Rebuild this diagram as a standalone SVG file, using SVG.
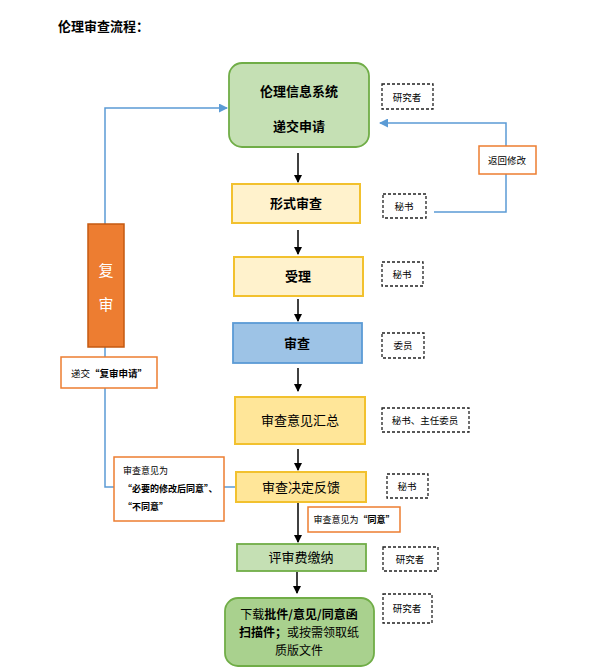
<svg xmlns="http://www.w3.org/2000/svg" width="593" height="670" viewBox="0 0 593 670">
<style>
text{font-family:"Noto Sans CJK SC","Liberation Sans",sans-serif;fill:#000;}
.t{font-size:13px;text-anchor:middle;}
.b{font-weight:bold;}
.s{font-size:9.5px;}
.dash{fill:#fff;stroke:#222;stroke-width:1.3;stroke-dasharray:3,2;}
.yl{fill:#fff2cc;stroke:#f2c12e;stroke-width:2;}
.yd{fill:#ffe699;stroke:#f2c12e;stroke-width:2;}
.or{fill:#fff;stroke:#ed7d31;stroke-width:1.5;}
.ar{stroke:#000;stroke-width:1.5;fill:none;marker-end:url(#ab);}
.bl{stroke:#5b9bd5;stroke-width:1.5;fill:none;}
</style>
<defs>
<marker id="ab" markerWidth="8" markerHeight="8" refX="7" refY="4" orient="auto" markerUnits="userSpaceOnUse"><path d="M0,0 L8,4 L0,8 z" fill="#000"/></marker>
<marker id="abl" markerWidth="9" markerHeight="9" refX="8" refY="4.5" orient="auto" markerUnits="userSpaceOnUse"><path d="M0,0 L9,4.5 L0,9 z" fill="#5b9bd5"/></marker>
</defs>
<rect width="593" height="670" fill="#fff"/>
<text x="58" y="31" class="b" font-size="13">伦理审查流程：</text>

<g id="connectors">
<line x1="298" y1="153" x2="298" y2="182" class="ar"/>
<line x1="298" y1="230" x2="298" y2="254" class="ar"/>
<line x1="298" y1="299" x2="298" y2="321" class="ar"/>
<line x1="298" y1="368" x2="298" y2="391" class="ar"/>
<line x1="298" y1="449" x2="298" y2="470" class="ar"/>
<line x1="298" y1="503" x2="298" y2="542" class="ar"/>
<line x1="297" y1="572" x2="297" y2="593" class="ar"/>
<polyline points="434,212 506,212 506,123 380,123" class="bl" marker-end="url(#abl)"/>
<polyline points="236,487 105,487 105,108 227,108" class="bl" marker-end="url(#abl)"/>
</g>

<g id="n-system"><rect x="229" y="63" width="140" height="84" rx="13" fill="#c5e0b4" stroke="#70ad47" stroke-width="1.8"/>
<text x="299" y="96" class="t b">伦理信息系统</text><text x="299" y="131" class="t b">递交申请</text></g>
<g id="n-form"><rect x="232" y="184" width="128" height="39" class="yl"/><text x="296" y="208" class="t b">形式审查</text></g>
<g id="n-accept"><rect x="234" y="257" width="129" height="39" class="yl"/><text x="298" y="281" class="t b">受理</text></g>
<g id="n-review"><rect x="233" y="323" width="129" height="40" fill="#9dc3e6" stroke="#5b9bd5" stroke-width="1.8"/><text x="297" y="348" class="t b">审查</text></g>
<g id="n-summary"><rect x="235" y="397" width="130" height="47" class="yd"/><text x="300" y="425" class="t">审查意见汇总</text></g>
<g id="n-feedback"><rect x="236" y="472" width="130" height="30" class="yd"/><text x="301" y="492" class="t">审查决定反馈</text></g>
<g id="n-fee"><rect x="237" y="544" width="129" height="27" fill="#c5e0b4" stroke="#70ad47" stroke-width="1.8"/><text x="301" y="562" class="t">评审费缴纳</text></g>
<g id="n-download"><rect x="225" y="598" width="149" height="68" rx="13" fill="#a9d18e" stroke="#70ad47" stroke-width="1.8"/>
<text x="299" y="619" font-size="12" text-anchor="middle">下载<tspan class="b">批件/意见/同意函</tspan></text>
<text x="299" y="637" font-size="12" text-anchor="middle"><tspan class="b">扫描件；</tspan>或按需领取纸</text>
<text x="299" y="655" font-size="12" text-anchor="middle">质版文件</text></g>

<g id="n-recheck"><rect x="88" y="224" width="36" height="123" fill="#ed7d31" stroke="#c55a11" stroke-width="1.5"/>
<text x="106" y="276" font-size="15" text-anchor="middle" style="fill:#fff">复</text>
<text x="106" y="310" font-size="15" text-anchor="middle" style="fill:#fff">审</text></g>

<g id="l-resubmit"><rect x="61" y="357" width="96" height="31" class="or"/><text x="71" y="377" class="s">递交<tspan class="b">“复审申请”</tspan></text></g>
<g id="l-return"><rect x="479" y="146" width="57" height="28" class="or"/><text x="507" y="164" class="s" text-anchor="middle">返回修改</text></g>
<g id="l-modify"><rect x="114" y="457" width="110" height="64" class="or"/>
<text x="123" y="474" font-size="9">审查意见为</text>
<text x="123" y="492" font-size="9" class="b">“必要的修改后同意”、</text>
<text x="123" y="510" font-size="9" class="b">“不同意”</text></g>
<g id="l-agree"><rect x="308" y="507" width="92" height="25" class="or"/><text x="354" y="523" font-size="9" text-anchor="middle">审查意见为<tspan class="b">“同意”</tspan></text></g>

<g id="r1"><rect x="382" y="84" width="51" height="25" class="dash"/><text x="407" y="101" class="s" text-anchor="middle">研究者</text></g>
<g id="r2"><rect x="383" y="194" width="43" height="24" class="dash"/><text x="404" y="210" class="s" text-anchor="middle">秘书</text></g>
<g id="r3"><rect x="382" y="262" width="41" height="24" class="dash"/><text x="402" y="278" class="s" text-anchor="middle">秘书</text></g>
<g id="r4"><rect x="382" y="333" width="42" height="25" class="dash"/><text x="403" y="349" class="s" text-anchor="middle">委员</text></g>
<g id="r5"><rect x="382" y="408" width="87" height="24" class="dash"/><text x="425" y="424" class="s" text-anchor="middle">秘书、主任委员</text></g>
<g id="r6"><rect x="387" y="474" width="41" height="24" class="dash"/><text x="407" y="490" class="s" text-anchor="middle">秘书</text></g>
<g id="r7"><rect x="383" y="547" width="55" height="24" class="dash"/><text x="410" y="563" class="s" text-anchor="middle">研究者</text></g>
<g id="r8"><rect x="383" y="594" width="49" height="29" class="dash"/><text x="407" y="612" class="s" text-anchor="middle">研究者</text></g>
</svg>
